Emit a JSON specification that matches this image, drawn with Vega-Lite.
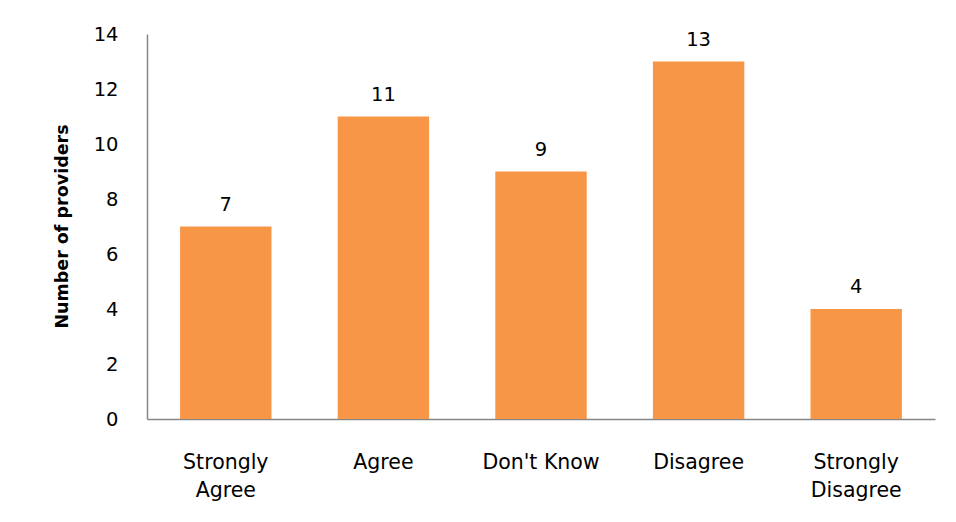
{
  "$schema": "https://vega.github.io/schema/vega-lite/v6.json",
  "width": 788,
  "height": 385,
  "autosize": {"type": "none"},
  "padding": {"left": 147, "top": 34, "right": 21, "bottom": 103},
  "background": "white",
  "config": {"view": {"stroke": null}, "font": "DejaVu Sans"},
  "data": {"values": [
    {"response": "Strongly Agree", "count": 7},
    {"response": "Agree", "count": 11},
    {"response": "Don't Know", "count": 9},
    {"response": "Disagree", "count": 13},
    {"response": "Strongly Disagree", "count": 4}
  ]},
  "encoding": {
    "x": {
      "field": "response", "type": "nominal", "sort": null,
      "scale": {"paddingInner": 0.42, "paddingOuter": 0.21},
      "axis": {
        "title": null, "labelAngle": 0, "ticks": false,
        "domainColor": "#868686", "domainWidth": 1.5,
        "labelFont": "DejaVu Sans", "labelFontSize": 20.5, "labelColor": "#000000",
        "labelPadding": 49, "labelLineHeight": 28, "labelBaseline": "alphabetic",
        "labelExpr": "indexof(datum.label, 'Strongly') == 0 ? split(datum.label, ' ') : datum.label"
      }
    },
    "y": {
      "field": "count", "type": "quantitative",
      "scale": {"domain": [0, 14]},
      "axis": {
        "values": [0, 2, 4, 6, 8, 10, 12, 14], "grid": false, "ticks": false,
        "domainColor": "#868686", "domainWidth": 1.5,
        "labelFont": "DejaVu Sans", "labelFontSize": 19.5, "labelColor": "#000000", "labelPadding": 29,
        "title": "Number of providers", "titleFont": "DejaVu Sans", "titleFontSize": 17.5,
        "titleFontWeight": "bold", "titleColor": "#000000",
        "titleX": -85, "titleY": 192, "titleAngle": -90,
        "titleAlign": "center", "titleBaseline": "middle"
      }
    }
  },
  "layer": [
    {"mark": {"type": "bar", "color": "#F79646"}},
    {"mark": {"type": "text", "baseline": "alphabetic", "dy": -16, "font": "DejaVu Sans", "fontSize": 19.5, "color": "#000000"},
     "encoding": {"text": {"field": "count", "type": "quantitative"}}}
  ]
}
